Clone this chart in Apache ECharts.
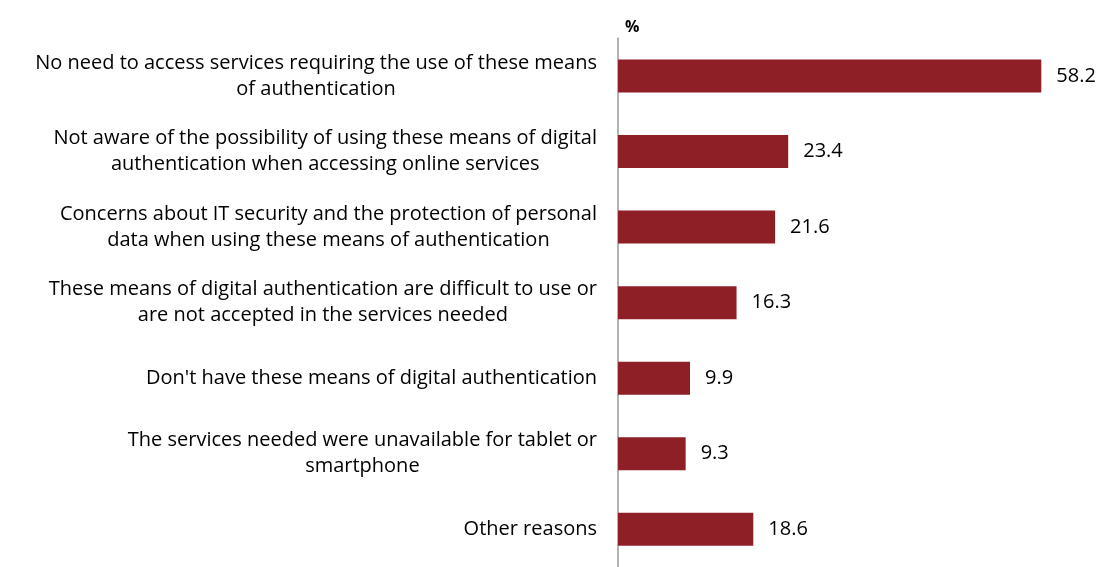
<!DOCTYPE html>
<html>
<head>
<meta charset="utf-8">
<style>
  html, body { margin: 0; padding: 0; background: #ffffff; }
  #chart { width: 1102px; height: 567px; }
</style>
<script src="https://cdn.jsdelivr.net/npm/echarts@6/dist/echarts.min.js"></script>
</head>
<body>
<div id="chart"></div>
<script>
// Reasons for not using digital authentication means (%)
const reasons = [
  "No need to access services requiring the use of these means\nof authentication",
  "Not aware of the possibility of using these means of digital\nauthentication when accessing online services",
  "Concerns about IT security and the protection of personal\ndata when using these means of authentication",
  "These means of digital authentication are difficult to use or\nare not accepted in the services needed",
  "Don't have these means of digital authentication",
  "The services needed were unavailable for tablet or\nsmartphone",
  "Other reasons"
];
const shares = [58.2, 23.4, 21.6, 16.3, 9.9, 9.3, 18.6];
const unitLabel = "%";

const FONT = "Open Sans";
const chart = echarts.init(document.getElementById('chart'), null, { renderer: 'canvas' });

chart.setOption({
  backgroundColor: '#ffffff',
  animation: false,
  title: {
    text: unitLabel,
    left: 620,
    top: 14,
    textStyle: { fontFamily: FONT, fontSize: 16, fontWeight: 'bold', color: '#000000' }
  },
  grid: { left: 618, right: 47.6, top: 38.3, height: 534.8, containLabel: false },
  xAxis: {
    type: 'value',
    min: 0,
    max: 60,
    show: false
  },
  yAxis: {
    type: 'category',
    inverse: true,
    data: reasons,
    axisTick: { show: false },
    axisLine: { show: true, lineStyle: { color: '#9a9a9a', width: 1.5 } },
    axisLabel: {
      margin: 21,
      align: 'right',
      color: '#000000',
      fontFamily: FONT,
      fontSize: 20,
      lineHeight: 26,
      formatter: function (v) {
        return v.split('\n').map(function (s) { return '{c|' + s + '}'; }).join('\n');
      },
      rich: {
        c: { align: 'center', fontFamily: FONT, fontSize: 20, lineHeight: 26, color: '#000000' }
      }
    }
  },
  series: [{
    type: 'bar',
    data: shares,
    barWidth: 33,
    itemStyle: { color: '#8e1f27' },
    label: {
      show: true,
      position: 'right',
      distance: 15,
      color: '#000000',
      fontFamily: FONT,
      fontSize: 20,
      formatter: function (p) { return p.value.toFixed(1); }
    }
  }]
});
</script>
</body>
</html>
